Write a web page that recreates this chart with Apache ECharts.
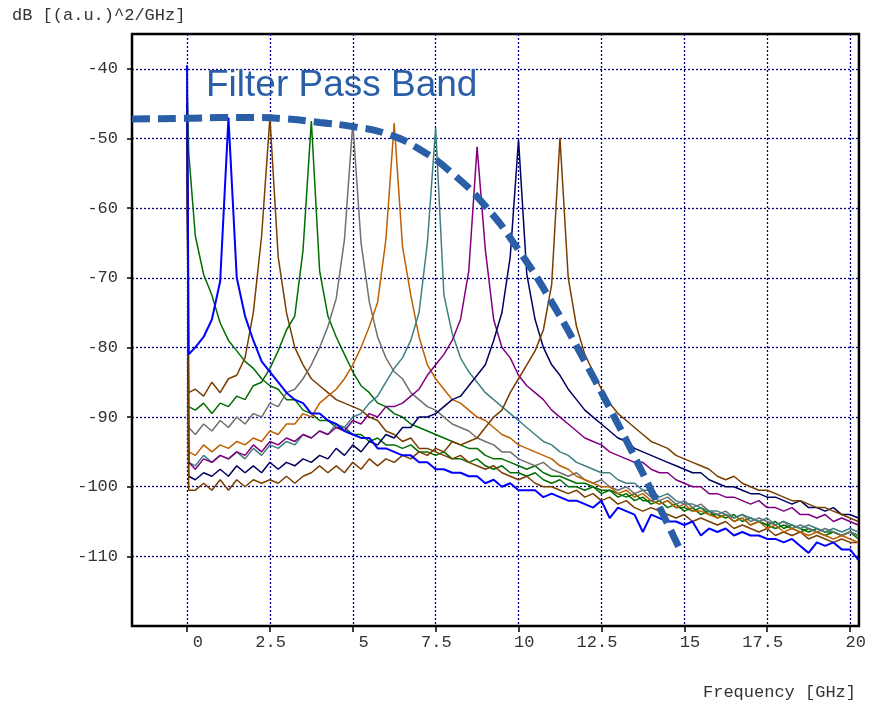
<!DOCTYPE html>
<html>
<head>
<meta charset="utf-8">
<script src="https://cdn.jsdelivr.net/npm/echarts@6/dist/echarts.min.js"></script>
<style>
  html, body { margin: 0; padding: 0; background: #fff; }
  #chart { width: 869px; height: 704px; }
</style>
</head>
<body>
<div id="chart"></div>
<script>
// frequency grid [GHz]
var freq = [0, 0.05,
  0.25, 0.5, 0.75, 1, 1.25, 1.5, 1.75, 2, 2.25, 2.5, 2.75, 3, 3.25, 3.5, 3.75, 4,
  4.25, 4.5, 4.75, 5, 5.25, 5.5, 5.75, 6, 6.25, 6.5, 6.75, 7, 7.25, 7.5, 7.75, 8,
  8.25, 8.5, 8.75, 9, 9.25, 9.5, 9.75, 10, 10.25, 10.5, 10.75, 11, 11.25, 11.5, 11.75, 12,
  12.25, 12.5, 12.75, 13, 13.25, 13.5, 13.75, 14, 14.25, 14.5, 14.75, 15, 15.25, 15.5, 15.75, 16,
  16.25, 16.5, 16.75, 17, 17.25, 17.5, 17.75, 18, 18.25, 18.5, 18.75, 19, 19.25, 19.5, 19.75, 20,
  20.25];

var xTicks = [0, 2.5, 5, 7.5, 10, 12.5, 15, 17.5, 20];
var yTicks = [-110, -100, -90, -80, -70, -60, -50, -40];

// tone at 0 GHz
var green0 = [-42, -52,
  -64, -69.5, -72.5, -76.5,  -79, -80.5, -82, -83,
  -84.5, -85.5, -86, -87.5,  -87.5, -89, -89.5, -90.5,
  -90.5, -91.5, -91.5, -92.5,  -92.5, -93.5, -93, -94,
  -94, -94.5, -94, -95,  -95, -95.5, -95, -96,
  -96, -96.5, -96, -97,  -97.5, -97, -98, -98,
  -98.5, -98, -99, -99.5,  -99, -100, -100, -100.5,
  -100, -101, -100.5, -101.5,  -101, -102, -101.5, -102.5,
  -102, -103, -102.5, -103.5,  -103, -104, -103.5, -104.5,
  -104, -105, -104.5, -105.5,  -105, -105.5, -106, -105.5,
  -106, -106.5, -106, -106.5,  -107, -106.5, -107, -106.5,
  -107.5];
var blue125 = [-39.5, -81,
  -80, -78.5, -76, -70.5,  -47, -70, -75.5, -79,
  -82, -83.5, -85, -86.5,  -87.5, -88, -89.5, -89.5,
  -90.5, -91, -92, -92.5,  -93, -93, -94.5, -94.5,
  -95, -95.5, -95.5, -96.5,  -96.5, -97.5, -97.5, -98,
  -98, -98.5, -98.5, -99.5,  -99, -100, -99.5, -100.5,
  -100.5, -100.5, -101.5, -101,  -101.5, -102, -102, -102.5,
  -103, -102, -104.5, -103,  -103.5, -104, -106.5, -104,
  -104.5, -105, -105, -105.5,  -105, -107, -106, -106.5,
  -106, -107, -106.5, -107,  -107, -107.5, -107.5, -108,
  -107.5, -108.5, -109.5, -108,  -108.5, -108, -109, -109,
  -110.5];
var brown25 = [-43, -86.5,
  -86, -87, -85, -86.5,  -84.5, -84, -81.5, -75,
  -64, -47, -67, -75,  -80, -82.5, -84.5, -85.5,
  -86.5, -87.5, -88, -88.5,  -89, -90, -90.5, -92,
  -92.5, -93.5, -93, -94.5,  -94.5, -95, -95.5, -96,
  -95.5, -96.5, -97, -97.5,  -97, -98, -98.5, -99,
  -98.5, -99.5, -100, -100,  -100.5, -101, -100.5, -101.5,
  -101, -102, -101.5, -102.5,  -102, -103, -103.5, -103,
  -103.5, -104, -104.5, -104,  -105, -104.5, -105, -105.5,
  -105, -106, -105.5, -106,  -106.5, -106, -107, -106.5,
  -107, -106.5, -107.5, -107,  -107.5, -108, -107.5, -108,
  -108];
var green375 = [-43.5, -88.5,
  -89, -88, -89.5, -88,  -88.5, -87, -87.5, -85.5,
  -85, -83, -80.5, -77.5,  -75.5, -66, -47.5, -69,
  -75.5, -78.5, -81, -83.5,  -85.5, -86.5, -88, -88.5,
  -89.5, -90, -91, -91.5,  -92, -92.5, -93, -93.5,
  -94, -94.5, -94.5, -95.5,  -96, -96, -96.5, -97,
  -97.5, -97, -98, -98.5,  -98.5, -99, -99.5, -99.5,
  -100, -100.5, -100.5, -101,  -101.5, -101, -102, -102,
  -102.5, -102, -103, -103,  -103.5, -103, -104, -104,
  -104.5, -104, -105, -104.5,  -105, -105.5, -105, -106,
  -105.5, -106, -106.5, -106,  -106.5, -106.5, -107, -106.5,
  -107];
var gray5 = [-44, -91.5,
  -92.5, -91, -92, -90.5,  -91.5, -90, -91, -89.5,
  -90, -88, -88.5, -86.5,  -86, -84.5, -82.5, -80,
  -77, -73, -64.5, -47.8,  -65, -73.5, -78.5, -81.5,
  -83.5, -84.5, -86.5, -87.5,  -88.5, -89, -90, -91,
  -91.5, -92, -93, -93.5,  -94, -95, -95, -96,
  -96.5, -97, -96.5, -97.5,  -98, -98.5, -98, -99,
  -99.5, -99, -100, -100.5,  -100, -101, -100.5, -101.5,
  -102, -101.5, -102.5, -102,  -103, -102.5, -103.5, -104,
  -103.5, -104.5, -104, -105,  -104.5, -105, -105.5, -105,
  -106, -105.5, -106, -106.5,  -106, -106.5, -107, -106.5,
  -107];
var orange625 = [-44, -95,
  -95.5, -94, -95, -94,  -94.5, -93.5, -94, -93,
  -93.5, -92, -92.5, -91,  -91, -89.5, -90, -88,
  -87, -86, -84.5, -82.5,  -80, -77, -73.5, -64.5,
  -47.8, -65.5, -72.5, -78.5,  -82.5, -84.5, -86, -87.5,
  -88, -89, -90, -90.5,  -91.5, -92.5, -93, -94,
  -94.5, -95, -95.5, -96,  -97, -97.5, -98.5, -99,
  -99.5, -100, -100, -101,  -100.5, -101.5, -101, -102,
  -102.5, -102, -103, -102.5,  -103.5, -103.5, -104, -104.5,
  -104, -105, -104.5, -105.5,  -105, -106, -105.5, -106.5,
  -106, -106.5, -107, -106.5,  -107, -107.5, -107, -107.5,
  -108];
var teal75 = [-44.5, -96.5,
  -97, -95.5, -96.5, -95.5,  -96, -95, -96, -94.5,
  -95.5, -94, -94.5, -93.5,  -94, -92.5, -93, -92,
  -92.5, -91, -91.5, -90,  -89.5, -88, -87, -85,
  -83, -81.5, -79, -75,  -65, -48.5, -72.5, -78,
  -81.5, -83.5, -85, -86.5,  -87.5, -88.5, -89.5, -90.5,
  -91.5, -92.5, -93.5, -94,  -95, -95.5, -96.5, -97,
  -97.5, -98, -98, -99,  -99.5, -99.5, -100.5, -100.5,
  -101.5, -101, -102, -102.5,  -102.5, -103, -103.5, -103.5,
  -104, -104.5, -104, -104.5,  -105, -104.5, -105.5, -105,
  -105.5, -106, -105.5, -106,  -106.5, -106, -106.5, -106,
  -106.5];
var purple875 = [-45, -96.5,
  -97.5, -96, -96.5, -95.5,  -96, -95, -95.5, -94,
  -95, -93.5, -94, -93,  -93.5, -92.5, -93, -92,
  -92.5, -91.5, -92, -90.5,  -91, -89.5, -90, -88.5,
  -88.5, -88, -87, -86,  -84, -82.5, -81, -79,
  -76, -69, -51.2, -66,  -76, -80, -81.5, -84,
  -85.5, -86.5, -87.5, -89,  -90, -91, -92, -93,
  -93.5, -94, -95, -95.5,  -96, -96.5, -96.5, -97.5,
  -98, -98, -99, -99.5,  -100, -100, -101, -101,
  -101.5, -101.5, -102, -102.5,  -102, -103, -103, -103.5,
  -103, -104, -104, -104.5,  -104, -105, -104.5, -105,
  -105.5];
var navy10 = [-45, -98.5,
  -99, -98, -98.5, -97.5,  -98.5, -97, -98, -97,
  -98, -96.5, -97.5, -96.5,  -97, -96, -96.5, -95.5,
  -96, -94.5, -95.5, -94,  -95, -93.5, -94, -92.5,
  -93, -91.5, -91.5, -90,  -90, -89.5, -88.5, -87.5,
  -87, -85.5, -84, -82.5,  -79, -75, -67, -50.2,
  -69.5, -76, -80, -82.5,  -84, -86, -87.5, -89,
  -90, -91, -92, -93,  -93.5, -94.5, -95, -95.5,
  -96, -96.5, -97, -97.5,  -98, -98, -99, -99.5,
  -100, -100, -100.5, -101,  -101, -101.5, -101.5, -102,
  -102.5, -102, -103, -103,  -103.5, -103, -104, -104,
  -104.5];
var brown1125 = [-45.5, -100.5,
  -100.5, -99.5, -100.5, -99,  -100.5, -99, -100, -99,
  -99.5, -99, -99.5, -98.5,  -99.5, -98.5, -98, -97,
  -98, -97, -98, -96.5,  -97.5, -96, -97, -96,
  -96.5, -95.5, -96, -95,  -95.5, -94.5, -95, -93.5,
  -94, -93.5, -93, -91.5,  -90, -89, -86.5, -84.5,
  -82.5, -80.5, -77.5, -71,  -49.9, -70, -77, -81,
  -83.5, -86, -88, -89.5,  -90.5, -91.5, -92.5, -93.5,
  -94, -94.5, -95.5, -96,  -96.5, -97, -97.5, -98.5,
  -99, -98.5, -99.5, -100,  -100.5, -100.5, -101, -101.5,
  -102, -102, -102.5, -103,  -103, -103.5, -104, -104.5,
  -105];

// filter pass band outline
var bandFreq = [-1.66, 0, 1, 2, 3, 4, 5, 6, 7, 8, 9, 10, 11, 12, 13, 14, 14.9];
var bandLevel = [-47.2, -47.1, -47, -47, -47.2, -47.7, -48.3, -49.3, -51.5, -55, -59.7, -66, -73.5, -82, -91, -100.5, -109.3];

function pairs(xs, ys) {
  return xs.map(function (x, i) { return [x, ys[i]]; });
}

var traces = [
  { data: green0, color: '#006e00' },
  { data: brown25, color: '#7a3d00' },
  { data: green375, color: '#006e00' },
  { data: gray5, color: '#707070' },
  { data: orange625, color: '#c06000' },
  { data: teal75, color: '#408080' },
  { data: purple875, color: '#800080' },
  { data: navy10, color: '#000060' },
  { data: brown1125, color: '#7a3d00' },
  { data: blue125, color: '#0000ff', width: 2 }
];

var series = traces.map(function (t) {
  return {
    type: 'line',
    data: pairs(freq, t.data),
    showSymbol: false,
    lineStyle: { color: t.color, width: t.width || 1.5 },
    emphasis: { disabled: true }
  };
});
series.push({
  type: 'line',
  data: pairs(bandFreq, bandLevel),
  smooth: true,
  showSymbol: false,
  lineStyle: { color: '#2a5fa8', width: 7, type: [18, 8] },
  emphasis: { disabled: true },
  z: 5
});

var chart = echarts.init(document.getElementById('chart'));
var font = 'Liberation Mono';
chart.setOption({
  animation: false,
  grid: { left: 132, right: 10, top: 34, bottom: 78, show: true, borderColor: '#000', borderWidth: 2.5 },
  xAxis: {
    type: 'value', min: -1.66, max: 20.27,
    axisLine: { show: true, onZero: false, lineStyle: { color: '#000', width: 2 } },
    axisTick: { show: true, length: 6, customValues: xTicks, lineStyle: { color: '#000', width: 1.5 } },
    axisLabel: {
      customValues: xTicks, fontFamily: font, fontSize: 17, color: '#333',
      margin: 8, align: 'right', padding: [0, -16, 0, 0],
      formatter: function (v) { return String(v); }
    },
    splitLine: { show: true, lineStyle: { color: '#00008b', type: [2, 2], width: 1.3 } }
  },
  yAxis: {
    type: 'value', min: -120, max: -35,
    axisLine: { show: true, onZero: false, lineStyle: { color: '#000', width: 2 } },
    axisTick: { show: true, length: 5, customValues: yTicks, lineStyle: { color: '#000', width: 1.5 } },
    axisLabel: { customValues: yTicks, fontFamily: font, fontSize: 17, color: '#333', margin: 14 },
    splitLine: { show: true, lineStyle: { color: '#00008b', type: [2, 2], width: 1.3 } }
  },
  graphic: [
    { type: 'text', left: 12, top: 7, style: { text: 'dB [(a.u.)^2/GHz]', font: '17px "Liberation Mono"', fill: '#333' } },
    { type: 'text', right: 13, top: 684, style: { text: 'Frequency [GHz]', font: '17px "Liberation Mono"', fill: '#333' } },
    { type: 'text', left: 206, top: 67, z: 10, style: { text: 'Filter Pass Band', font: '37px "Liberation Sans"', fill: '#2a5fa8' } }
  ],
  series: series
});
</script>
</body>
</html>
